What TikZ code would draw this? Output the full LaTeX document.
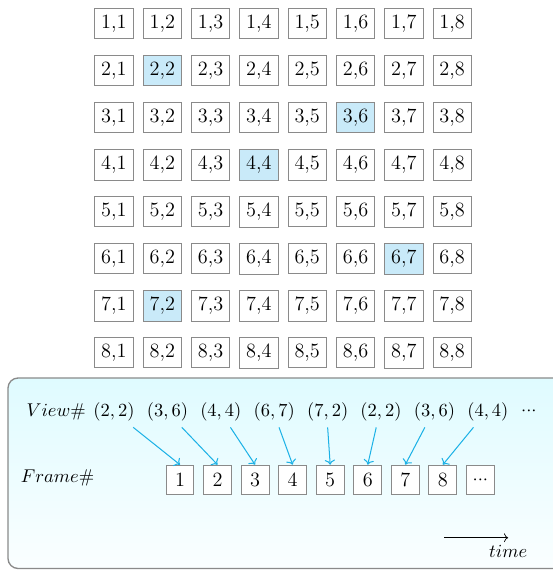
\documentclass[11pt,tikz,border=0pt]{standalone}
\usepackage{xcolor}
\definecolor{cLine}{HTML}{8A8A8A}
\definecolor{cHit}{HTML}{C9EAF9}
\definecolor{cMap}{HTML}{1BB1E6}
\definecolor{cPanel}{HTML}{DFFBFF}
\usepackage{tikz}
\usetikzlibrary{positioning,arrows.meta,calc}
\tikzset{
  cell-box/.style={draw=cLine,fill=white,inner sep=3.8pt,font=\large},
  cell-hit/.style={fill=cHit},
  frame-box/.style={draw=cLine,semithick,fill=white,font=\large,
    minimum width=16.5pt,minimum height=17.5pt,inner sep=2pt},
  panel/.style={draw=cLine,thick,rounded corners=6pt,
    top color=cPanel,bottom color=cPanel!15},
  arrow-map/.style={->,line width=0.6pt,draw=cMap},
  arrow-time/.style={->,thin,draw=black},
}

\begin{document}
\begin{tikzpicture}
  \useasboundingbox (0,0) rectangle (11.5,-11.856);
  % view grid
  \foreach \i in {1,...,8}
    \foreach \j in {1,...,8}
      \node[cell-box] (c\i\j) at ({2.37+1.005*(\j-1)},{-0.49-0.978*(\i-1)}) {\i,\j};
  \foreach \i/\j in {2/2,3/6,4/4,6/7,7/2}
    \node[cell-box,cell-hit] at (c\i\j) {\i,\j};

  % timeline panel
  \draw[panel] (0.166,-7.862) rectangle (12.1,-11.825);
  \node (view) at (1.17,-8.561) {$View\#$};
  \foreach \p [count=\k] in {(2,2),(3,6),(4,4),(6,7),(7,2),(2,2),(3,6),(4,4)}
    \node (v\k) at ({2.371+1.111*(\k-1)},-8.561) {$\p$};
  \node (vdots) at (11.0,-8.561) {${\cdot}{\cdot}{\cdot}$};

  \node (frame) at (1.196,-9.934) {$Frame\#$};
  \foreach \k in {1,...,8}
    \node[frame-box] (f\k) at ({3.744+0.781*(\k-1)},-9.984) {\k};
  \node[frame-box,font=\normalsize] (fdots) at ({3.744+0.781*8},-9.984) {${\cdot}{\cdot}{\cdot}$};

  \foreach \k in {1,...,8}{
    \pgfmathsetmacro{\dx}{0.5-0.1*\k}
    \draw[arrow-map] ([xshift=\dx cm]v\k.south) -- (f\k.north);
  }

  \node (time) at (10.57,-11.475) {$time$};
  \coordinate (tend) at (10.57,-11.185);
  \coordinate (tbeg) at (9.24,-11.185);
  \draw[arrow-time] (tbeg) -- (tend);
\end{tikzpicture}
\end{document}
